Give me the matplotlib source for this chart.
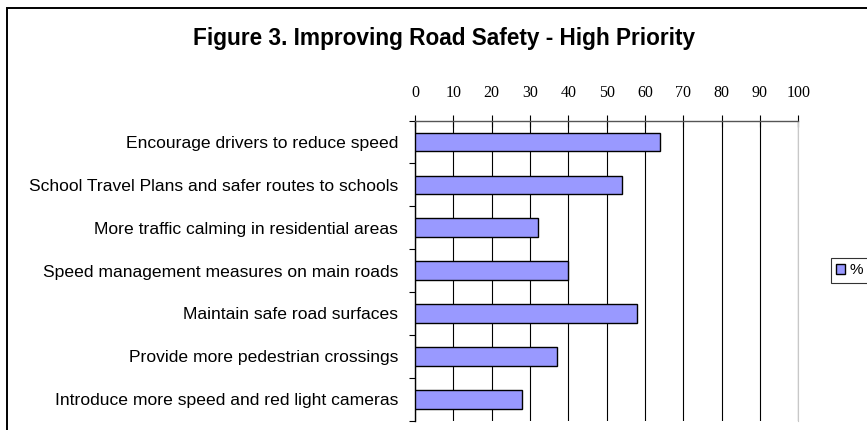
import matplotlib
matplotlib.use("Agg")
import matplotlib.pyplot as plt
from matplotlib.patches import Rectangle
import numpy as np

title = "Figure 3. Improving Road Safety - High Priority"
categories = [
    "Encourage drivers to reduce speed",
    "School Travel Plans and safer routes to schools",
    "More traffic calming in residential areas",
    "Speed management measures on main roads",
    "Maintain safe road surfaces",
    "Provide more pedestrian crossings",
    "Introduce more speed and red light cameras",
]
values = [64, 54, 32, 40, 58, 37, 28]
series_name = "%"
xticks = [0, 10, 20, 30, 40, 50, 60, 70, 80, 90, 100]

W, H = 867, 430
fig = plt.figure(figsize=(W / 100, H / 100), dpi=100)

# outer chart frame
fig.patches.append(Rectangle((6.5 / W, -0.05), 1.0, 1.05 - 7.5 / H,
                             transform=fig.transFigure, fill=False,
                             edgecolor="black", linewidth=1.4))

left, right = 415 / W, 798.3 / W
top, bottom = 1 - 120.5 / H, 1 - 420.7 / H
ax = fig.add_axes([left, bottom, right - left, top - bottom])

n = len(categories)
y = np.arange(n)
ax.barh(y, values, height=0.435, color="#9999FF", edgecolor="black",
        linewidth=1.0, zorder=3)
ax.set_ylim(n - 0.5, -0.5)
ax.set_xlim(0, 100)

ax.xaxis.tick_top()
ax.set_xticks(xticks)
ax.set_xticklabels([str(t) for t in xticks], fontfamily="Liberation Serif",
                   fontsize=11.5)
ax.tick_params(axis="x", direction="inout", length=8, width=0.8, pad=10,
               colors="black")

ax.set_yticks(y)
ax.set_yticklabels(categories, fontfamily="Liberation Sans", fontsize=12.6)
ax.tick_params(axis="y", which="major", length=0, pad=12)
ax.set_yticks(np.arange(-0.5, n, 1.0), minor=True)
ax.tick_params(axis="y", which="minor", direction="out", length=4, width=0.8)

ax.grid(axis="x", color="black", linewidth=0.8, zorder=0)
ax.spines["bottom"].set_visible(False)
ax.spines["right"].set_color("#c8c8c8")
ax.spines["top"].set_linewidth(1.0)
ax.spines["top"].set_color("#555555")
ax.spines["left"].set_linewidth(1.0)

fig.text(444 / W, 1 - 38.5 / H, title, ha="center", va="center",
         fontfamily="Liberation Sans", fontweight="bold", fontsize=16.3)

# legend
leg = fig.legend([Rectangle((0, 0), 1, 1, facecolor="#9999FF", edgecolor="black")],
                 [series_name], loc="center left",
                 bbox_to_anchor=(830.7 / W, 1 - 270.5 / H),
                 prop={"family": "Liberation Sans", "size": 11},
                 frameon=True, fancybox=False, handlelength=0.6,
                 handleheight=0.6, handletextpad=0.3, borderpad=0.35,
                 borderaxespad=0)
leg.get_frame().set_edgecolor("black")
leg.get_frame().set_linewidth(0.8)

fig.savefig("out.png", dpi=100)
